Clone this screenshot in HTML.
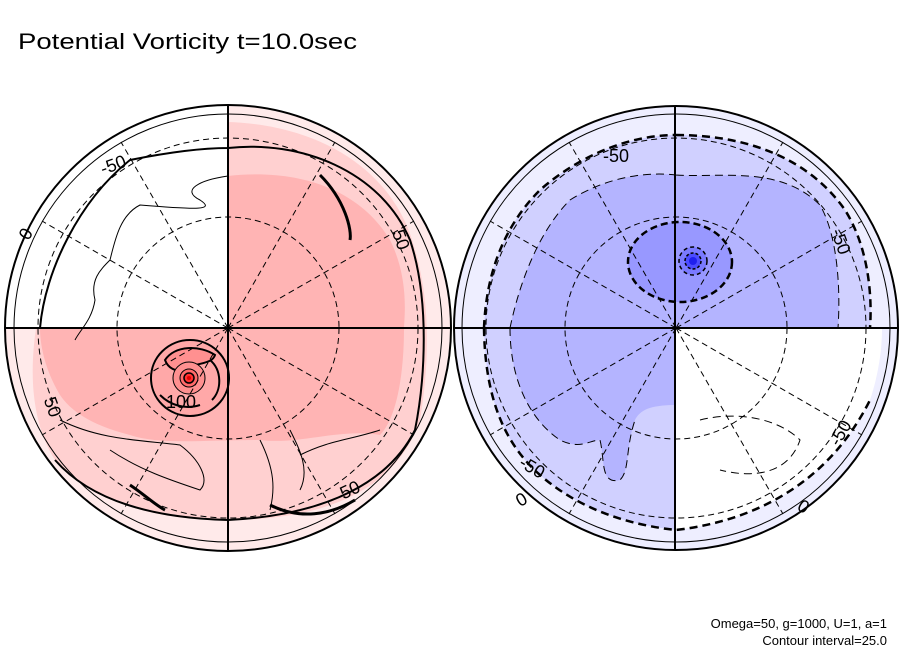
<!DOCTYPE html>
<html><head><meta charset="utf-8"><style>
html,body{margin:0;padding:0;background:#fff;}
svg{display:block;font-family:"Liberation Sans",sans-serif;}
</style></head><body>
<svg id="chart" width="904" height="654" viewBox="0 0 904 654">
<rect width="904" height="654" fill="#fff"/>
<text x="18" y="49" font-size="22" textLength="339" lengthAdjust="spacingAndGlyphs">Potential Vorticity t=10.0sec</text>

<defs>
<clipPath id="cl"><circle cx="228" cy="328" r="222"/></clipPath>
<clipPath id="cr"><circle cx="676" cy="328" r="222"/></clipPath>
</defs>

<!-- LEFT HEMISPHERE -->
<g id="left">
<g clip-path="url(#cl)">
<path d="M228,328 L228,100 A228,228 0 0 1 456,328 A228,228 0 0 1 0,328 Z" fill="#ffeaea"/>
<path d="M228,328 L228,122 C320,125 395,170 415,250 C430,300 430,360 420,420 C400,480 340,520 228,520 C150,520 90,500 55,460 C30,420 30,370 36,328 Z" fill="#ffd0d0"/>
<path d="M228,328 L228,176 C300,168 360,190 390,240 C410,280 404,320 404,328 C404,380 395,420 380,435 C340,428 300,445 260,440 C200,440 160,445 130,435 C90,425 70,410 60,395 C45,370 40,345 40,328 Z" fill="#ffb4b4"/>
<ellipse cx="190" cy="378" rx="39" ry="38" fill="#ffa8a8" stroke="#000" stroke-width="2"/>
<path d="M165,360 C175,345 200,345 215,355 C212,365 195,362 185,370 C175,372 168,368 165,360 Z" fill="#ff9090" stroke="#000" stroke-width="2"/>
<path d="M160,395 C170,405 185,410 200,405 M210,360 C222,370 222,390 212,400" fill="none" stroke="#000" stroke-width="2"/>
<circle cx="189" cy="378" r="16" fill="#ff9090" stroke="#000" stroke-width="1"/>
<circle cx="189" cy="378" r="9" fill="#ff6a6a" stroke="#000" stroke-width="1"/>
<circle cx="189" cy="378" r="5" fill="#ff3030" stroke="#000" stroke-width="1.5"/>
<circle cx="189" cy="378" r="2" fill="#e00000"/>
<path d="M40,328 C45,270 80,200 130,160 C180,150 210,148 228,148 C300,140 380,170 410,240 C430,300 425,380 415,430 C390,480 330,515 228,520 C150,518 90,500 55,460" fill="none" stroke="#000" stroke-width="2"/>
<path d="M228,176 C200,180 180,190 200,200 C215,210 200,210 140,205 C120,215 115,240 110,260 C100,270 90,280 95,300 C92,320 80,330 75,340" fill="none" stroke="#000" stroke-width="1"/>
<path d="M60,420 C100,440 140,440 180,445 C200,460 210,480 200,490 C170,480 140,470 110,450" fill="none" stroke="#000" stroke-width="1"/>
<path d="M260,440 C275,470 275,490 270,510 M290,430 C300,450 310,470 300,490 M300,455 C330,440 350,440 380,430" fill="none" stroke="#000" stroke-width="1"/>
<path d="M320,175 C345,200 352,230 350,240 M130,485 C145,495 155,505 165,510 M270,505 C300,520 330,515 355,500" fill="none" stroke="#000" stroke-width="3"/>
</g>
<g fill="none" stroke="#000" stroke-width="1" stroke-dasharray="6,4">
<circle cx="228" cy="328" r="111"/>
<circle cx="228" cy="328" r="190"/>
<path d="M228,328 L42,221 M228,328 L121,142 M228,328 L335,142 M228,328 L414,221 M228,328 L414,435 M228,328 L335,514 M228,328 L121,514 M228,328 L42,435"/>
</g>
<circle cx="228" cy="328" r="214" fill="none" stroke="#000" stroke-width="1"/>
<circle cx="228" cy="328" r="223" fill="none" stroke="#000" stroke-width="2"/>
<line x1="5" y1="328" x2="451" y2="328" stroke="#000" stroke-width="2"/>
<line x1="228" y1="105" x2="228" y2="551" stroke="#000" stroke-width="2"/>
<g font-size="18">
<text x="100" y="172" transform="rotate(-20 110 165)">-50</text>
<text x="18" y="237" transform="rotate(-60 27 230)">0</text>
<text x="390" y="245" transform="rotate(70 400 240)">50</text>
<text x="46" y="414" transform="rotate(70 55 405)">50</text>
<text x="166" y="408">100</text>
<text x="340" y="496" transform="rotate(-25 350 490)">50</text>
</g>
</g>

<!-- RIGHT HEMISPHERE -->
<g id="right">
<g clip-path="url(#cr)">
<circle cx="676" cy="328" r="223" fill="#eeeeff"/>
<path d="M676,328 L676,135 C750,135 810,160 845,210 C870,250 872,300 870,328 L484,328 C486,280 500,230 540,190 C580,155 630,135 676,135 Z" fill="#d0d0ff"/>
<path d="M676,328 L484,328 C485,390 500,440 540,475 C580,510 630,525 676,530 Z" fill="#d0d0ff"/>
<path d="M676,328 L676,175 C720,178 780,165 820,205 C840,240 840,300 838,328 L510,328 C520,280 540,230 570,200 C610,175 650,172 676,175 Z" fill="#b4b4ff"/>
<path d="M510,328 L676,328 L676,405 C650,405 640,410 635,420 C625,450 630,470 620,480 C600,485 605,460 600,440 C590,440 580,450 560,440 C530,420 510,380 510,328 Z" fill="#b4b4ff"/>
<path d="M676,328 L892,328 A216,216 0 0 1 676,544 Z" fill="#ffffff"/>
<path d="M676,544 L676,530 C760,520 830,480 870,400 C880,370 882,345 882,328 L898,328 A222,222 0 0 1 676,550 Z" fill="#eeeeff"/>
<ellipse cx="680" cy="262" rx="52" ry="40" fill="#9898ff" stroke="#000" stroke-width="2.5" stroke-dasharray="7,4"/>
<circle cx="693" cy="261" r="14" fill="#7a7aff" stroke="#000" stroke-width="1.5" stroke-dasharray="4,3"/>
<circle cx="693" cy="261" r="8" fill="#4c4cff" stroke="#000" stroke-width="1.5" stroke-dasharray="3,2"/>
<circle cx="693" cy="261" r="4" fill="#2020ee"/>
<g fill="none" stroke="#000" stroke-dasharray="8,5">
<path d="M676,135 C750,135 810,160 845,210 C870,250 872,300 870,328 M484,328 C486,280 500,230 540,190 C580,155 630,135 676,135" stroke-width="2.5"/>
<path d="M484,328 C485,390 500,440 540,475 C580,510 630,525 676,530 C760,520 830,480 870,400" stroke-width="2.5"/>
<path d="M676,175 C720,178 780,165 820,205 C840,240 840,300 838,328 M510,328 C520,280 540,230 570,200 C610,175 650,172 676,175" stroke-width="1"/>
<path d="M510,328 C510,380 530,420 560,440 C580,450 590,440 600,440 C605,460 600,485 620,480 C630,470 625,450 635,420" stroke-width="1"/>
<path d="M700,420 C740,410 780,420 800,440 C790,470 760,480 720,470" stroke-width="1"/>
</g>
</g>
<g fill="none" stroke="#000" stroke-width="1" stroke-dasharray="6,4">
<circle cx="676" cy="328" r="111"/>
<circle cx="676" cy="328" r="190"/>
<path d="M676,328 L490,221 M676,328 L569,142 M676,328 L783,142 M676,328 L862,221 M676,328 L862,435 M676,328 L783,514 M676,328 L569,514 M676,328 L490,435"/>
</g>
<circle cx="676" cy="328" r="214" fill="none" stroke="#000" stroke-width="1"/>
<circle cx="676" cy="328" r="222" fill="none" stroke="#000" stroke-width="2"/>
<line x1="454" y1="328" x2="898" y2="328" stroke="#000" stroke-width="2"/>
<line x1="675" y1="106" x2="675" y2="550" stroke="#000" stroke-width="2"/>
<g font-size="18">
<text x="603" y="162">-50</text>
<text x="826" y="242" transform="rotate(70 836 240)">-50</text>
<text x="520" y="472" transform="rotate(30 530 465)">-50</text>
<text x="828" y="442" transform="rotate(-60 838 435)">-50</text>
<text x="516" y="504" transform="rotate(-30 524 498)">0</text>
<text x="798" y="514" transform="rotate(30 806 508)">0</text>
</g>
</g>

<text x="887" y="628" font-size="13" text-anchor="end">Omega=50, g=1000, U=1, a=1</text>
<text x="887" y="645" font-size="13" text-anchor="end">Contour interval=25.0</text>
</svg>
</body></html>
